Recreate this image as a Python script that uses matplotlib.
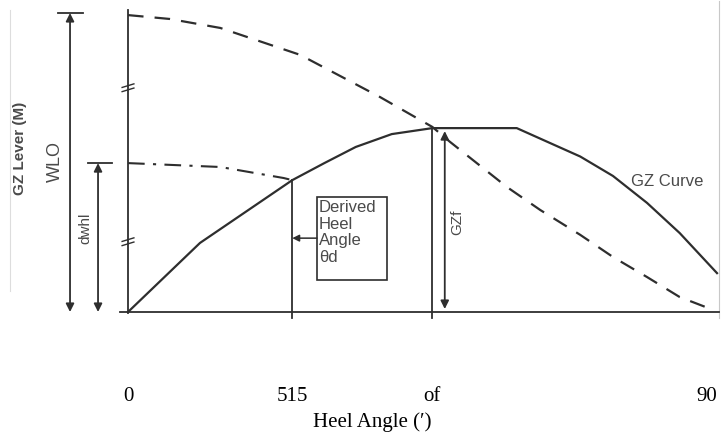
import matplotlib.pyplot as plt
from matplotlib.patches import Rectangle
from matplotlib.transforms import ScaledTranslation

# --- data (heel angle in degrees, lever as fraction of WLO) ---
gz_heel = [0, 11, 25.1, 30, 34.8, 40.3, 46.5, 59.4, 64.5, 69.1, 74.1, 79.3, 84.3, 90]
gz_lever = [0, 0.231, 0.441, 0.498, 0.552, 0.595, 0.615, 0.615, 0.565, 0.52, 0.455, 0.365, 0.264, 0.13]

wlo_heel = [0, 6.4, 14.1, 26.3, 38.5, 46.5, 49.2, 57.9, 63.0, 69.1, 74.1, 79.3, 84.3, 89.4]
wlo_lever = [0.993, 0.98, 0.95, 0.86, 0.719, 0.619, 0.569, 0.418, 0.341, 0.258, 0.184, 0.117, 0.05, 0.007]

wind_heel = [0, 14.1, 23.8, 25.1]
wind_lever = [0.498, 0.485, 0.448, 0.441]

theta_d = 25.1      # derived heel angle
theta_max = 46.5    # angle of max GZ
gz_max = 0.615
wlo = 1.0
dwhl = 0.498

tick_pos = [0, theta_d, theta_max, 90]
tick_labels = ["0", "515", "of", "90"]

ink = "#2e2e2e"
txt = "#4a4a4a"
serif = ["Liberation Serif", "DejaVu Serif"]

fig = plt.figure(figsize=(7.25, 4.36), dpi=100)
ax = fig.add_axes([0, 116 / 436, 1, 320 / 436])
ax.set_xlim(-19.56, 91.22)
ax.set_ylim(-8 / 299, 312 / 299)
for s in ax.spines.values():
    s.set_visible(False)
ax.set_yticks([])

# scan borders
ax.plot([-17.97, -17.97], [0.07, 1.01], color="#dddddd", lw=0.8)
ax.plot([90.3, 90.3], [-0.02, 1.04], color="#c8c8c8", lw=0.8)

# axes of the diagram
ax.plot([0, 0], [-0.005, 1.01], color=ink, lw=1.3)
ax.plot([-1.2, 90.3], [0, 0], color=ink, lw=1.3)
for v in [0.749, 0.234]:
    for dv in [0, 0.014]:
        ax.plot([-0.9, 0.9], [v - 0.012 + dv, v + dv], color=ink, lw=1)

# curves
ax.plot(gz_heel, gz_lever, color=ink, lw=1.6)
ax.plot(wlo_heel, wlo_lever, color=ink, lw=1.6, dashes=(7, 5))
ax.plot(wind_heel, wind_lever, color=ink, lw=1.5, dashes=(8, 4, 1.5, 4))

# vertical lines
ax.plot([theta_d, theta_d], [-0.02, 0.441], color=ink, lw=1.3)
ax.plot([theta_max, theta_max], [-0.02, gz_max], color=ink, lw=1.3)

# dimension arrows
arr = dict(arrowstyle="<|-|>", color=ink, lw=1.3, shrinkA=0, shrinkB=0, mutation_scale=12)
ax.annotate("", xy=(-8.86, wlo), xytext=(-8.86, 0), arrowprops=arr)
ax.annotate("", xy=(-4.58, dwhl), xytext=(-4.58, 0), arrowprops=arr)
ax.annotate("", xy=(48.4, gz_max - 0.01), xytext=(48.4, 0.01), arrowprops=arr)
ax.plot([-10.7, -6.88], [wlo, wlo], color=ink, lw=1.3)
ax.plot([-6.11, -2.44], [dwhl, dwhl], color=ink, lw=1.3)

# derived heel angle box
ax.add_patch(Rectangle((28.88, 0.107), 10.7, 0.278, fill=False, ec=ink, lw=1.2))
ax.text(29.2, 0.375, "Derived\nHeel\nAngle\nθd", ha="left", va="top", fontsize=12,
        color=txt, family="Liberation Sans", linespacing=1.15)
ax.annotate("", xy=(theta_d, 0.247), xytext=(28.88, 0.247),
            arrowprops=dict(arrowstyle="-|>", color=ink, lw=1.1, shrinkA=0, shrinkB=0,
                            mutation_scale=10))

# diagram labels
ax.text(-16.5, 0.548, "GZ Lever (M)", rotation=90, ha="center", va="center",
        fontsize=11, fontweight="bold", color=txt, family="Liberation Sans")
ax.text(-11.15, 0.505, "WLO", rotation=90, ha="center", va="center",
        fontsize=13, color=txt, family="Liberation Sans")
ax.text(-6.57, 0.281, "dwhl", rotation=90, ha="center", va="center",
        fontsize=11, color=txt, family="Liberation Sans")
ax.text(50.3, 0.301, "GZf", rotation=90, ha="center", va="center",
        fontsize=11, color=txt, family="Liberation Sans")
ax.text(82.4, 0.438, "GZ Curve", ha="center", va="center",
        fontsize=12, color=txt, family="Liberation Sans")

# x axis ticks and label
ax.set_xticks(tick_pos)
ax.set_xticklabels(tick_labels, fontsize=15, family=serif)
last = ax.get_xticklabels()[-1]
last.set_ha("right")
last.set_transform(last.get_transform() + ScaledTranslation(6 / 100, 0, fig.dpi_scale_trans))
ax.tick_params(axis="x", length=0, pad=48)
fig.text(372 / 725, 1 - 422 / 436, "Heel Angle (\u2032)", ha="center", va="center",
         fontsize=15, family=serif)

fig.savefig("out.png", dpi=100)
